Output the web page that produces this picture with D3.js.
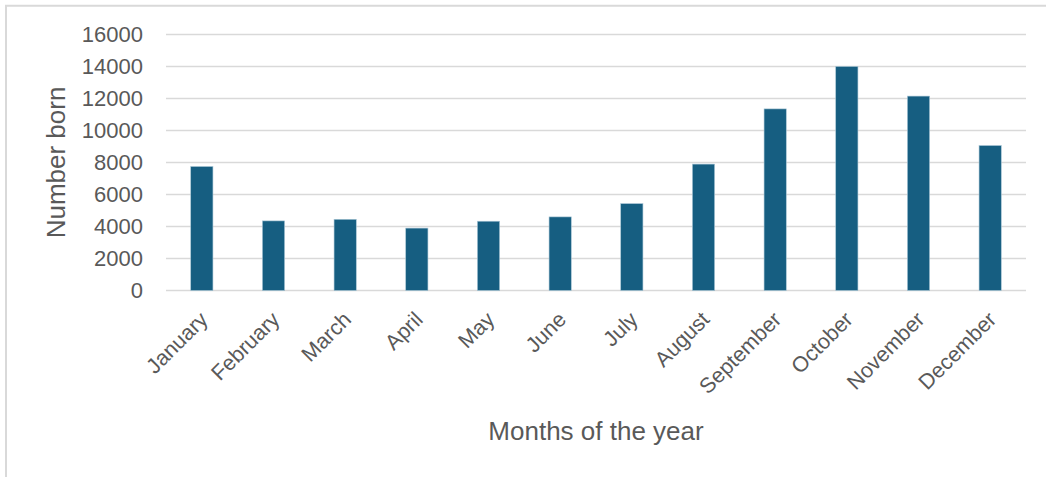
<!DOCTYPE html>
<html>
<head>
<meta charset="utf-8">
<script src="https://cdn.jsdelivr.net/npm/d3@7"></script>
<style>
  html, body { margin: 0; padding: 0; background: #fff; }
  svg { display: block; }
  text { font-family: "Liberation Sans", Arial, sans-serif; fill: #595959; }
</style>
</head>
<body>
<svg id="chart" width="1046" height="477"></svg>
<script>
const months = ["January","February","March","April","May","June","July","August","September","October","November","December"];
const born = [7750, 4350, 4450, 3900, 4330, 4600, 5430, 7900, 11350, 14000, 12150, 9060];
const yTicks = [0, 2000, 4000, 6000, 8000, 10000, 12000, 14000, 16000];
const yTitle = "Number born";
const xTitle = "Months of the year";

const W = 1046, H = 477;
const plot = { left: 166, right: 1026, top: 34.5, bottom: 290.5 };

const svg = d3.select("#chart");

// frame (left + top border)
svg.append("path")
  .attr("d", `M6,${H} L6,5.8 L${W},5.8`)
  .attr("fill", "none")
  .attr("stroke", "#d9d9d9")
  .attr("stroke-width", 2);

const x = d3.scaleBand()
  .domain(months)
  .range([plot.left, plot.right])
  .paddingInner(0.69)
  .paddingOuter(0.345);

const y = d3.scaleLinear()
  .domain([0, 16000])
  .range([plot.bottom, plot.top]);

// gridlines
svg.append("g")
  .selectAll("line")
  .data(yTicks)
  .join("line")
  .attr("x1", plot.left)
  .attr("x2", plot.right)
  .attr("y1", d => y(d))
  .attr("y2", d => y(d))
  .attr("stroke", "#d9d9d9")
  .attr("stroke-width", 1.4);

// y axis labels
const yAxis = d3.axisLeft(y).tickValues(yTicks).tickSize(0).tickPadding(23).tickFormat(d3.format("d"));
const gy = svg.append("g").attr("transform", `translate(${plot.left},0)`).call(yAxis);
gy.select(".domain").remove();
gy.selectAll("text").style("font-size", "22px").attr("fill", "#595959").attr("font-family", "Liberation Sans, Arial, sans-serif");

// bars
svg.append("g")
  .selectAll("rect")
  .data(months.map((m, i) => ({ m, v: born[i] })))
  .join("rect")
  .attr("x", d => x(d.m))
  .attr("width", x.bandwidth())
  .attr("y", d => y(d.v))
  .attr("height", d => y(0) - y(d.v))
  .attr("fill", "#165e81")
  .attr("stroke", "#a9c6d6")
  .attr("stroke-width", 0.6);

// x axis labels (rotated)
const xAxis = d3.axisBottom(x).tickSize(0).tickPadding(0);
const gx = svg.append("g").attr("transform", `translate(0,${plot.bottom})`).call(xAxis);
gx.select(".domain").remove();
gx.selectAll(".tick text")
  .attr("text-anchor", "end")
  .attr("dy", "0.35em")
  .attr("y", 0)
  .attr("transform", "translate(2,25) rotate(-45)")
  .style("font-size", "21.5px")
  .attr("fill", "#595959")
  .attr("font-family", "Liberation Sans, Arial, sans-serif");

// axis titles
svg.append("text")
  .attr("transform", `translate(65,${(plot.top + plot.bottom) / 2}) rotate(-90)`)
  .attr("text-anchor", "middle")
  .style("font-size", "26px")
  .text(yTitle);

svg.append("text")
  .attr("x", (plot.left + plot.right) / 2)
  .attr("y", 440)
  .attr("text-anchor", "middle")
  .style("font-size", "26px")
  .text(xTitle);
</script>
</body>
</html>
